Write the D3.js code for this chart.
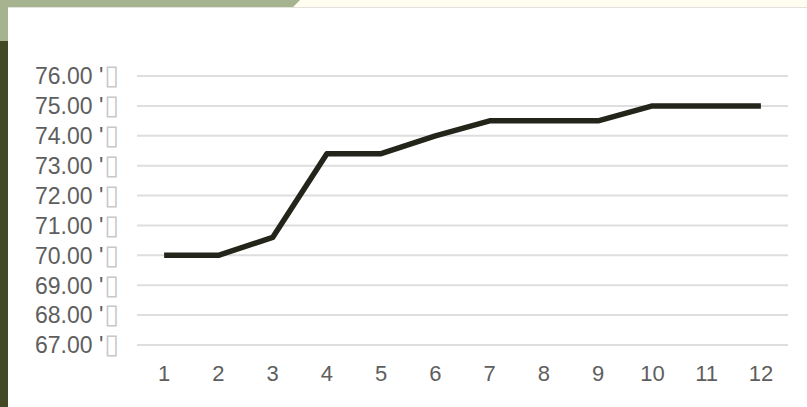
<!DOCTYPE html>
<html>
<head>
<meta charset="utf-8">
<script src="https://cdn.jsdelivr.net/npm/d3@7"></script>
<style>
  body { margin: 0; background: #ffffff; }
  svg { display: block; font-family: "Liberation Sans", Arial, sans-serif; }
</style>
</head>
<body>
<svg id="chart"></svg>
<script>
const width = 807;
const height = 407;

// data
const months = ["1", "2", "3", "4", "5", "6", "7", "8", "9", "10", "11", "12"];
const values = [70.0, 70.0, 70.6, 73.4, 73.4, 74.0, 74.5, 74.5, 74.5, 75.0, 75.0, 75.0];
const yTicks = [67, 68, 69, 70, 71, 72, 73, 74, 75, 76];

const svg = d3.select("svg#chart")
  .attr("width", width)
  .attr("height", height);

// slide background: green band top-left, cream top-right, olive strip on the left
svg.append("rect").attr("x", 0).attr("y", 0).attr("width", width).attr("height", height).attr("fill", "#fefdf0");
svg.append("path")
  .attr("d", "M0,0 L300,0 L293,7 L8,7 L8,41 L0,41 Z")
  .attr("fill", "#a6b38f");
svg.append("rect").attr("x", 0).attr("y", 41).attr("width", 8).attr("height", height - 41).attr("fill", "#434a23");
svg.append("rect").attr("x", 8).attr("y", 7).attr("width", width - 8).attr("height", height - 7).attr("fill", "#ffffff");
svg.append("line").attr("x1", 8).attr("x2", width).attr("y1", 7.5).attr("y2", 7.5)
  .attr("stroke", "#e2e2dc").attr("stroke-width", 1);

const margin = { top: 76, bottom: 62, left: 137, right: 19 };

const x = d3.scaleBand()
  .domain(months)
  .range([margin.left, width - margin.right]);

const y = d3.scaleLinear()
  .domain([67, 76])
  .range([height - margin.bottom, margin.top]);

// gridlines
svg.append("g").attr("id", "grid")
  .selectAll("line")
  .data(yTicks)
  .join("line")
  .attr("x1", margin.left)
  .attr("x2", width - margin.right)
  .attr("y1", d => y(d))
  .attr("y2", d => y(d))
  .attr("stroke", "#dedede")
  .attr("stroke-width", 2);

// y labels
const yLabels = svg.append("g").attr("id", "yAxis")
  .selectAll("text")
  .data(yTicks)
  .join("text")
  .attr("x", 35)
  .attr("y", d => y(d))
  .attr("dy", "0.36em")
  .attr("font-size", 23)
  .attr("fill", "#5e5e5e");
yLabels.append("tspan").text(d => d.toFixed(2) + " '");
yLabels.append("tspan")
  .attr("fill", "#c8c8c8")
  .attr("font-family", "DejaVu Sans")
  .attr("font-size", 27)
  .attr("dx", 1)
  .text("\u25AF");

// x axis
const xAxis = svg.append("g")
  .attr("id", "xAxis")
  .attr("transform", "translate(0," + (y(67) + 20) + ")")
  .call(d3.axisBottom(x).tickSize(0).tickPadding(0));
xAxis.select(".domain").remove();
xAxis.selectAll("text")
  .attr("font-size", 22)
  .attr("font-family", "Liberation Sans, Arial, sans-serif")
  .attr("fill", "#5e5e5e");

// line
const line = d3.line()
  .x((d, i) => x(months[i]) + x.bandwidth() / 2)
  .y(d => y(d));

svg.append("path")
  .datum(values)
  .attr("d", line)
  .attr("fill", "none")
  .attr("stroke", "#23251a")
  .attr("stroke-width", 5.5)
  .attr("stroke-linejoin", "round");
</script>
</body>
</html>
